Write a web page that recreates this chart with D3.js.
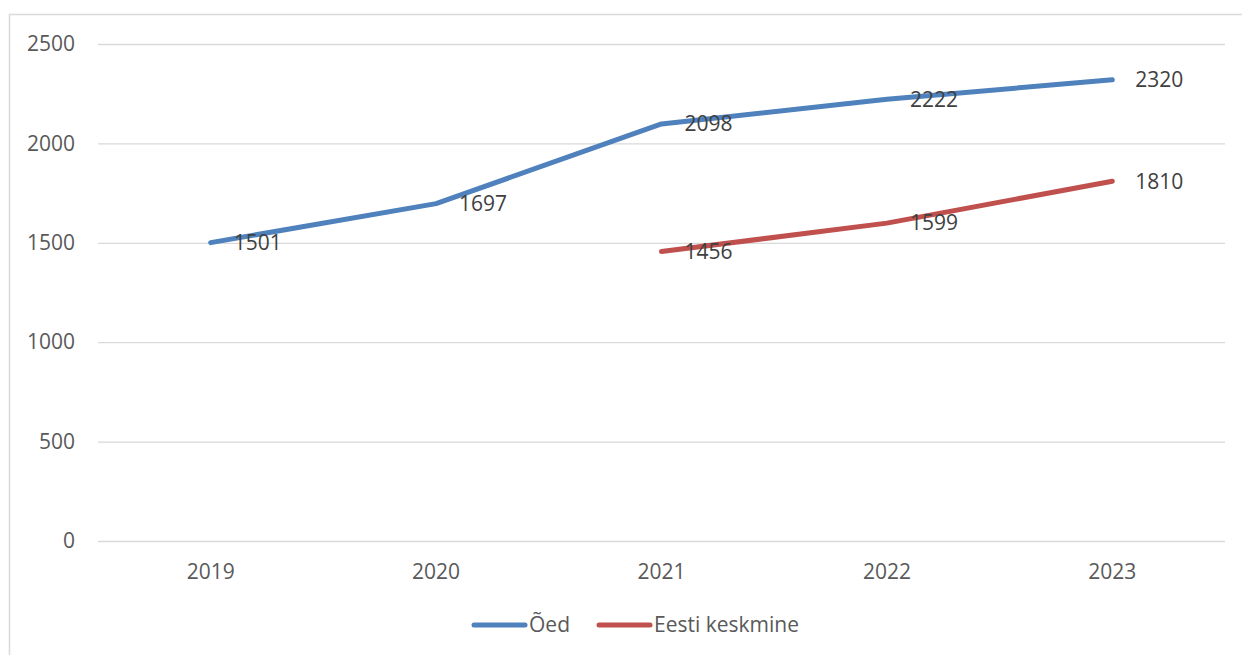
<!DOCTYPE html>
<html>
<head>
<meta charset="utf-8">
<script src="https://cdn.jsdelivr.net/npm/d3@7"></script>
<style>
  html, body { margin: 0; padding: 0; background: #fff; }
  svg { display: block; font-family: "Open Sans", "Noto Sans", sans-serif; }
</style>
</head>
<body>
<svg id="chart" width="1242" height="655"></svg>
<script>
// Years on the category axis
const years = ["2019", "2020", "2021", "2022", "2023"];
// Average gross monthly wage, nurses (Õed)
const oedValues = [1501, 1697, 2098, 2222, 2320];
// Estonian average (Eesti keskmine), available from 2021
const eestiValues = [null, null, 1456, 1599, 1810];
const yTicks = [0, 500, 1000, 1500, 2000, 2500];
const seriesNames = ["Õed", "Eesti keskmine"];
const seriesColors = ["#4F81BD", "#C0504D"];

const svg = d3.select("#chart");
const W = 1242, H = 655;
const plot = { left: 98, right: 1225, top: 44, bottom: 541 };
const FS = 21;
const LW = 5;

// chart frame
svg.append("rect")
  .attr("x", 9.5).attr("y", 14.5)
  .attr("width", W + 10).attr("height", H + 10)
  .attr("fill", "#fff").attr("stroke", "#D9D9D9").attr("stroke-width", 1.5);

const x = d3.scaleBand().domain(years).range([plot.left, plot.right]);
const y = d3.scaleLinear().domain([0, 2500]).range([plot.bottom, plot.top]);
const cx = d => x(d) + x.bandwidth() / 2;

// horizontal gridlines with value labels
const yAxis = d3.axisLeft(y).tickValues(yTicks).tickFormat(d3.format("d"))
  .tickSize(-(plot.right - plot.left)).tickPadding(23);
const gy = svg.append("g").attr("transform", `translate(${plot.left},0)`).call(yAxis);
gy.select(".domain").remove();
gy.selectAll(".tick line").attr("stroke", "#D9D9D9").attr("stroke-width", 1.3);
gy.selectAll(".tick text").attr("fill", "#595959").attr("font-size", FS).attr("font-family", "Open Sans");

// category labels
const xAxis = d3.axisBottom(x).tickSize(0).tickPadding(23);
const gx = svg.append("g").attr("transform", `translate(0,${plot.bottom})`).call(xAxis);
gx.select(".domain").remove();
gx.selectAll(".tick text").attr("fill", "#595959").attr("font-size", FS).attr("font-family", "Open Sans");

// series lines and data labels
const allSeries = [oedValues, eestiValues];
const line = d3.line()
  .defined(d => d.v != null)
  .x(d => cx(d.year))
  .y(d => y(d.v));

allSeries.forEach((vals, i) => {
  const pts = years.map((yr, k) => ({ year: yr, v: vals[k] }));
  svg.append("path")
    .datum(pts)
    .attr("d", line)
    .attr("fill", "none")
    .attr("stroke", seriesColors[i])
    .attr("stroke-width", LW)
    .attr("stroke-linecap", "round")
    .attr("stroke-linejoin", "round");
  svg.append("g").selectAll("text")
    .data(pts.filter(d => d.v != null))
    .join("text")
    .attr("x", d => cx(d.year) + 23)
    .attr("y", d => y(d.v))
    .attr("dy", "0.35em")
    .attr("fill", "#404040")
    .attr("font-size", FS)
    .text(d => d.v);
});

// legend
const legendItems = [
  { name: seriesNames[0], color: seriesColors[0], x: 474 },
  { name: seriesNames[1], color: seriesColors[1], x: 599 }
];
const lg = svg.append("g");
legendItems.forEach(it => {
  lg.append("line")
    .attr("x1", it.x).attr("x2", it.x + 51)
    .attr("y1", 625).attr("y2", 625)
    .attr("stroke", it.color).attr("stroke-width", LW)
    .attr("stroke-linecap", "round");
  lg.append("text")
    .attr("x", it.x + 55).attr("y", 625).attr("dy", "0.35em")
    .attr("fill", "#595959").attr("font-size", FS)
    .text(it.name);
});
</script>
</body>
</html>
